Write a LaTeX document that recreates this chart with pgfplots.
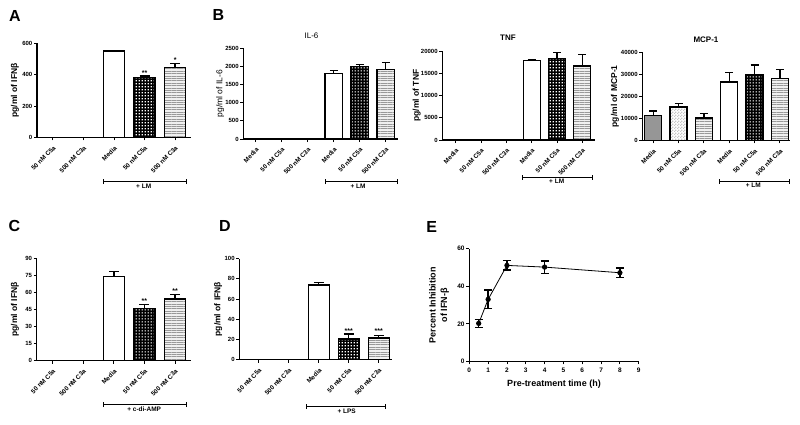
\documentclass[border=0pt]{standalone}
\usepackage{fontspec}
\setmainfont{Liberation Sans}
\usepackage{pgfplots}
\pgfplotsset{compat=1.18}
\usetikzlibrary{patterns.meta}

\tikzdeclarepattern{
  name=fcheck, type=uncolored,
  bottom left={(0pt,0pt)}, top right={(2.6pt,2.6pt)}, tile size={(2.6pt,2.6pt)},
  code={\fill (0pt,0pt) rectangle (1.3pt,1.3pt); \fill (1.3pt,1.3pt) rectangle (2.6pt,2.6pt);}
}
\tikzdeclarepattern{
  name=fdots, type=uncolored,
  bottom left={(0pt,0pt)}, top right={(2.6pt,2.6pt)}, tile size={(2.6pt,2.6pt)},
  code={\fill (0.6pt,0.6pt) rectangle (2pt,2pt);}
}
\definecolor{dgray}{RGB}{150,150,150}

\newcommand{\fs}[1]{\fontsize{#1}{#1}\selectfont\bfseries}
\newcommand{\fr}[1]{\fontsize{#1}{#1}\selectfont}

\tikzset{sig/.style={font=\fs{7}, anchor=south, inner sep=0.5pt}}

\pgfplotsset{
 gp/.style={
   scale only axis, anchor=south west, clip=false,
   axis lines*=left, axis line style={line width=1.1pt,-},
   tick align=outside, major tick length=3pt,
   tick style={black, line width=0.9pt},
   ymin=0, scaled y ticks=false,
   /pgf/number format/assume math mode=true,
   /pgf/number format/1000 sep={},
   yticklabel style={font=\fs{6}, inner sep=1.5pt},
   ylabel style={font=\fs{8.5}, anchor=center},
   title style={font=\fs{8}, anchor=center},
 },
 gpbar/.style={
   ybar, bar shift=0pt,
   xticklabel style={yshift=-3.5pt, rotate=45, anchor=north east, inner sep=1pt, font=\fs{6.3}},
 },
 gb/.style={draw=black, line width=1.3pt,
   error bars/y dir=plus, error bars/y explicit,
   error bars/error bar style={line width=1.3pt, black, solid},
   error bars/error mark options={rotate=90, line width=1.3pt, black, mark size=#1}},
 gb/.default=5pt,
 wb/.style={gb=#1, fill=white},
 wb/.default=5pt,
 cb/.style={gb=#1, preaction={fill=black}, pattern=fdots, pattern color=white},
 cb/.default=5pt,
 hb/.style={gb=#1, preaction={fill=gray!12}, pattern={Lines[angle=0,distance=2.4pt,line width=0.7pt]}, pattern color=gray!80},
 hb/.default=5pt,
 db/.style={gb=#1, fill=dgray},
 db/.default=4pt,
 lb/.style={gb=#1, preaction={fill=white}, pattern=fcheck, pattern color=gray!45},
 lb/.default=4pt,
}
\newcommand{\brk}[5]{%
  \draw[line width=0.9pt] (#1,#3) -- (#2,#3) (#1,#3-2.5) -- (#1,#3+2.5) (#2,#3-2.5) -- (#2,#3+2.5);
  \node[anchor=north, font=\fs{6.5}, inner sep=0pt] at (#4,#3-2) {#5};}

\begin{document}
\begin{tikzpicture}[x=1pt,y=1pt]
\path[use as bounding box] (0,0) rectangle (800,424);

% ---------- A ----------
\begin{axis}[gp, gpbar, at={(37pt,286.7pt)}, width=153.7pt, height=94pt,
  xmin=-0.52, xmax=4.51, ymax=600, ytick={0,200,400,600},
  xtick={0,...,4}, xticklabels={50 nM C5a,500 nM C3a,Media,50 nM C5a,500 nM C3a},
  bar width=21pt, ylabel={pg/ml of IFNβ},
  ylabel style={at={(axis description cs:-0.143,0.5)}}]
\addplot[wb] coordinates {(2,551) +- (0,5)};
\addplot[cb] coordinates {(3,383) +- (0,8)};
\addplot[hb] coordinates {(4,447) +- (0,24)};
\node[sig] at (axis cs:3,391) {**};
\node[sig] at (axis cs:4,471) {*};
\end{axis}
\brk{103.3}{186.7}{242.3}{143.7}{+ LM}
\node[font=\fs{16}] at (15,408) {A};

% ---------- B: IL-6 ----------
\begin{axis}[gp, gpbar, at={(243.3pt,285pt)}, width=154.7pt, height=90.7pt,
  xmin=-0.48, xmax=5.47, ymax=2500, ytick={0,500,...,2500},
  xtick={0,...,5}, xticklabels={Media,50 nM C5a,500 nM C3a,Media,50 nM C5a,500 nM C3a},
  bar width=17.5pt, ylabel={pg/ml of IL-6}, title={IL-6},
  ylabel style={font=\fr{8.5}, at={(axis description cs:-0.150,0.5)}},
  title style={font=\fr{8}, at={(axis description cs:0.441,1.075)}}]
\addplot[wb=4pt] coordinates {(3,1810) +- (0,70)};
\addplot[cb=4pt] coordinates {(4,1990) +- (0,60)};
\addplot[hb=4pt] coordinates {(5,1910) +- (0,190)};
\end{axis}
\brk{325}{397}{242.3}{358}{+ LM}
\node[font=\fs{16}] at (218.3,409) {B};

% ---------- B: TNF ----------
\begin{axis}[gp, gpbar, at={(442.3pt,284pt)}, width=152.7pt, height=89pt,
  xmin=-0.53, xmax=5.5, ymax=20000, ytick={0,5000,...,20000},
  xtick={0,...,5}, xticklabels={Media,50 nM C5a,500 nM C3a,Media,50 nM C5a,500 nM C3a},
  bar width=17pt, ylabel={pg/ml of TNF}, title={TNF},
  ylabel style={at={(axis description cs:-0.168,0.5)}},
  title style={at={(axis description cs:0.43,1.076)}}]
\addplot[wb=4pt] coordinates {(3,17850) +- (0,150)};
\addplot[cb=4pt] coordinates {(4,18350) +- (0,1250)};
\addplot[hb=4pt] coordinates {(5,16600) +- (0,2550)};
\end{axis}
\brk{522.7}{592.7}{246.7}{556.7}{+ LM}

% ---------- B: MCP-1 ----------
\begin{axis}[gp, gpbar, at={(642.3pt,283.7pt)}, width=147.7pt, height=88pt,
  xmin=-0.43, xmax=5.4, ymax=40000, ytick={0,10000,...,40000},
  xtick={0,...,5}, xticklabels={Media,50 nM C5a,500 nM C3a,Media,50 nM C5a,500 nM C3a},
  bar width=17pt, ylabel={pg/ml of MCP-1}, title={MCP-1},
  ylabel style={at={(axis description cs:-0.185,0.5)}},
  title style={at={(axis description cs:0.431,1.074)}}]
\addplot[db] coordinates {(0,11200) +- (0,2100)};
\addplot[lb] coordinates {(1,15100) +- (0,1500)};
\addplot[hb=4pt] coordinates {(2,10100) +- (0,2000)};
\addplot[wb=4pt] coordinates {(3,26500) +- (0,4300)};
\addplot[cb=4pt] coordinates {(4,29700) +- (0,4500)};
\addplot[hb=4pt] coordinates {(5,28000) +- (0,4100)};
\end{axis}
\brk{719}{789}{243}{753.3}{+ LM}

% ---------- C ----------
\begin{axis}[gp, gpbar, at={(36.7pt,63.3pt)}, width=154pt, height=102.7pt,
  xmin=-0.52, xmax=4.51, ymax=90, ytick={0,15,...,90},
  xtick={0,...,4}, xticklabels={50 nM C5a,500 nM C3a,Media,50 nM C5a,500 nM C3a},
  bar width=21pt, ylabel={pg/ml of IFNβ},
  ylabel style={at={(axis description cs:-0.141,0.5)}}]
\addplot[wb] coordinates {(2,74) +- (0,4)};
\addplot[cb] coordinates {(3,46) +- (0,3.3)};
\addplot[hb] coordinates {(4,54) +- (0,4.2)};
\node[sig] at (axis cs:3,49.3) {**};
\node[sig] at (axis cs:4,58.2) {**};
\end{axis}
\brk{103.3}{186.7}{19.3}{144.2}{+ c-di-AMP}
\node[font=\fs{16}] at (14.5,198.3) {C};

% ---------- D ----------
\begin{axis}[gp, gpbar, at={(239.3pt,64.3pt)}, width=152.4pt, height=101pt,
  xmin=-0.65, xmax=4.43, ymax=100, ytick={0,20,...,100},
  xtick={0,...,4}, xticklabels={50 nM C5a,500 nM C3a,Media,50 nM C5a,500 nM C3a},
  bar width=21pt, ylabel={pg/ml of IFNβ},
  ylabel style={at={(axis description cs:-0.138,0.5)}}]
\addplot[wb] coordinates {(2,74) +- (0,2.5)};
\addplot[cb] coordinates {(3,20.5) +- (0,5)};
\addplot[hb] coordinates {(4,21.5) +- (0,2.5)};
\node[sig] at (axis cs:3,25.5) {***};
\node[sig] at (axis cs:4,25.5) {***};
\end{axis}
\brk{306.7}{385}{17.3}{346.7}{+ LPS}
\node[font=\fs{16}] at (225,198) {D};

% ---------- E ----------
\begin{axis}[gp, at={(469.3pt,62.7pt)}, width=169.4pt, height=112.6pt,
  xmin=0, xmax=9, ymax=60, xtick={0,...,9}, ytick={0,20,40,60},
  xticklabel style={font=\fs{6.5}}, yticklabel style={font=\fs{6.5}},
  xlabel={Pre-treatment time (h)},
  xlabel style={font=\fs{9}, at={(axis description cs:0.5,-0.199)}, anchor=center},
  ylabel={Percent Inhibition\\of IFN-β},
  ylabel style={font=\fontsize{9}{11.5}\selectfont\bfseries, align=center, at={(axis description cs:-0.179,0.5)}}]
\addplot[black, line width=0.8pt, mark=*, mark size=2.2pt,
  error bars/y dir=both, error bars/y explicit,
  error bars/error bar style={line width=1.3pt, black},
  error bars/error mark options={rotate=90, line width=1.3pt, black, mark size=4pt}]
  coordinates {(0.5,20.2) +- (0,2) (1,33) +- (0,5) (2,51.1) +- (0,2.5) (4,50.2) +- (0,3.3) (8,47.2) +- (0,2.5)};
\end{axis}
\node[font=\fs{16}] at (431.7,197) {E};
\end{tikzpicture}
\end{document}
